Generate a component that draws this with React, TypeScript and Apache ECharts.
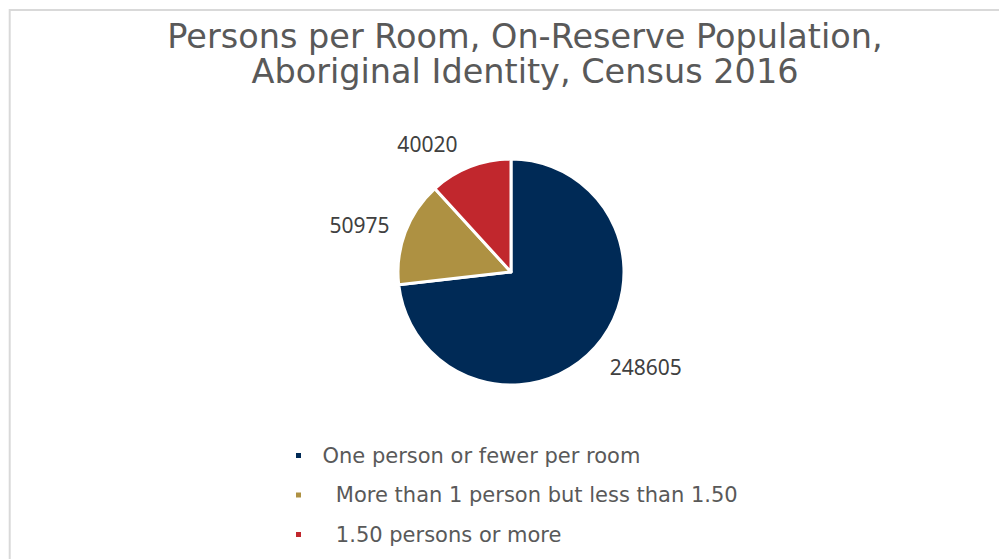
import React, { useEffect, useRef } from "react";
import * as echarts from "echarts";

const titleLines = ["Persons per Room, On-Reserve Population,", "Aboriginal Identity, Census 2016"];
const categories = [
  "One person or fewer per room",
  "  More than 1 person but less than 1.50",
  "  1.50 persons or more",
];
const values = [248605, 50975, 40020];
const colors = ["#002a56", "#ae9142", "#c1272d"];
const labelLineLengths = [30, 21, 24];
const labelDistances = [-8, -4, 4];

export default function App() {
  const ref = useRef<HTMLDivElement>(null);
  useEffect(() => {
    if (!ref.current) return;
    const chart = echarts.init(ref.current, undefined, { renderer: "svg" });
    chart.setOption({
      animation: false,
      backgroundColor: "#ffffff",
      title: {
        text: titleLines.join("\n"),
        left: 525,
        top: 19,
        padding: 0,
        textAlign: "center",
        textStyle: {
          fontFamily: "DejaVu Sans",
          fontSize: 33.5,
          fontWeight: "normal",
          color: "#595959",
          lineHeight: 35,
        },
      },
      graphic: [
        {
          type: "rect",
          shape: { x: 9.7, y: 10, width: 1400, height: 900 },
          style: { fill: "none", stroke: "#d9d9d9", lineWidth: 2 },
          silent: true,
          z: -1,
        },
      ],
      legend: {
        orient: "vertical",
        left: 294,
        top: 445,
        padding: 0,
        itemWidth: 7,
        itemHeight: 7,
        itemGap: 18.5,
        icon: "rect",
        formatter: (name: string) => `{s|}${name}`,
        textStyle: {
          fontFamily: "DejaVu Sans",
          fontSize: 21,
          lineHeight: 21,
          color: "#595959",
          rich: {
            s: { width: 15.5, fontSize: 21, lineHeight: 21 },
          },
        },
        data: categories,
      },
      series: [
        {
          type: "pie",
          center: [511, 272],
          radius: 113,
          startAngle: 90,
          clockwise: true,
          avoidLabelOverlap: false,
          itemStyle: { borderColor: "#ffffff", borderWidth: 3 },
          label: {
            show: true,
            position: "outside",
            formatter: "{c}",
            fontFamily: "Noto Sans",
            fontSize: 21,
            color: "#404040",
          },
          labelLine: { show: false, length2: 0 },
          emphasis: { disabled: true },
          data: categories.map((name, i) => ({
            name,
            value: values[i],
            itemStyle: { color: colors[i] },
            label: { distanceToLabelLine: labelDistances[i] },
            labelLine: { show: false, length: labelLineLengths[i], length2: 0 },
          })),
        },
      ],
    });
    return () => chart.dispose();
  }, []);
  return (
    <div
      ref={ref}
      style={{ position: "fixed", left: 0, top: 0, width: 999, height: 559 }}
    />
  );
}
